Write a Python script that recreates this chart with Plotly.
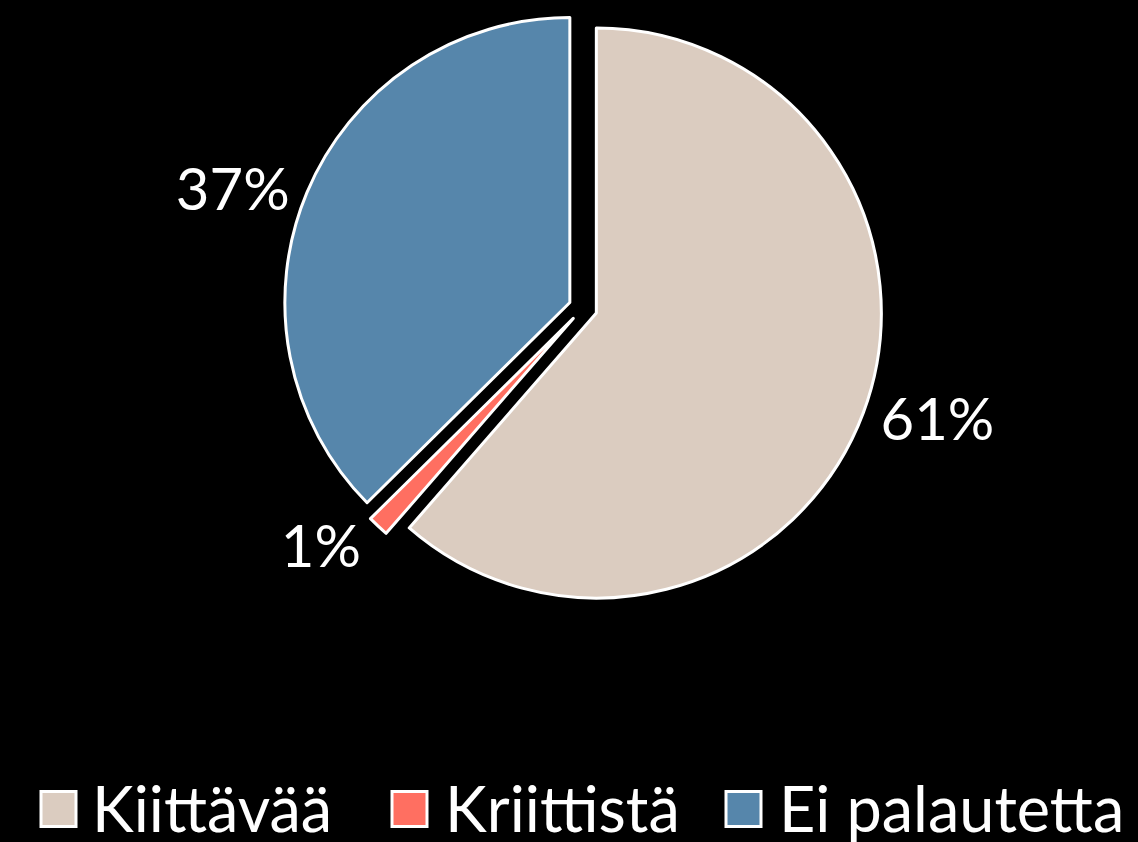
import plotly.graph_objects as go

labels = ["Kiittävää", "Kriittistä", "Ei palautetta"]
values = [61.4, 1.2, 37.4]
colors = ["#DBCCC0", "#FF6F61", "#5686AB"]

W, H = 1138, 842
FONT = "Lato"

fig = go.Figure()
fig.add_trace(go.Pie(
    labels=labels,
    values=values,
    sort=False,
    direction="clockwise",
    rotation=0,
    pull=[0.05, 0.05, 0.05],
    marker=dict(colors=colors, line=dict(color="white", width=3)),
    texttemplate="%{percent:.0%}",
    textposition="outside",
    automargin=False,
    outsidetextfont=dict(color="white", size=58, family=FONT),
    domain=dict(x=[0.2493, 0.7753], y=[0.2788, 0.9896]),
    showlegend=False,
    hoverinfo="label+percent",
))

# custom legend (large square markers)
legend_sq_x = [41, 392, 726]
legend_text_x = [90, 443, 777]
sq = 35
yc = 809
for i, lab in enumerate(labels):
    x0 = legend_sq_x[i]
    fig.add_shape(type="rect", xref="paper", yref="paper",
                  x0=x0 / W, x1=(x0 + sq) / W,
                  y0=1 - (yc + sq / 2) / H, y1=1 - (yc - sq / 2) / H,
                  fillcolor=colors[i], line=dict(color="white", width=3))
    fig.add_annotation(xref="paper", yref="paper",
                       x=legend_text_x[i] / W, y=1 - (yc - 2) / H,
                       text=lab, showarrow=False, xanchor="left", yanchor="middle",
                       font=dict(color="white", size=63, family=FONT))

fig.update_layout(
    width=W, height=H,
    paper_bgcolor="black", plot_bgcolor="black",
    margin=dict(l=0, r=0, t=0, b=0, pad=0, autoexpand=False),
    showlegend=False,
)
fig.write_html("out.html", config={"displayModeBar": False})

with open("out.html", "r", encoding="utf-8") as f:
    html = f.read()
html = html.replace("<head>", "<head><style>html,body{margin:0;padding:0;overflow:hidden;background:black;}</style>", 1)
with open("out.html", "w", encoding="utf-8") as f:
    f.write(html)
